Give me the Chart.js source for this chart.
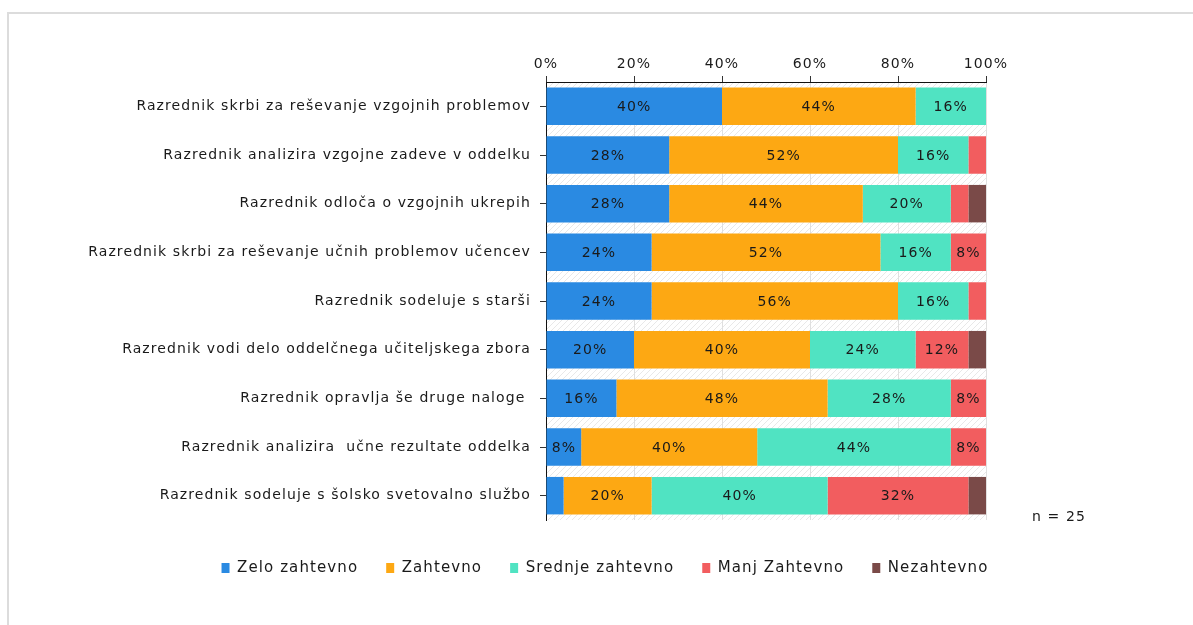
<!DOCTYPE html>
<html>
    <head>
        <meta charset="UTF-8">
        <title>Razrednik</title>
        <script src="https://cdn.jsdelivr.net/npm/chart.js@4/dist/chart.umd.min.js"></script>
        <style>
            body { margin: 0; background: #fff; }
            #okvir { position: absolute; left: 7px; top: 12px; width: 1400px; height: 800px;
                     border-left: 2px solid #dcdcdc; border-top: 2px solid #dcdcdc; }
            #wrap { position: absolute; left: 0; top: 0; width: 1193px; height: 625px; }
        </style>
    </head>
    <body>
        <div id="okvir"></div>
        <div id="wrap"><canvas id="grafica" width="1193" height="625"></canvas></div>

        <script type="text/javascript">
        // podatki (v %, n = 25)
        var kategorije = [
            "Razrednik skrbi za reševanje vzgojnih problemov",
            "Razrednik analizira vzgojne zadeve v oddelku",
            "Razrednik odloča o vzgojnih ukrepih",
            "Razrednik skrbi za reševanje učnih problemov učencev",
            "Razrednik sodeluje s starši",
            "Razrednik vodi delo oddelčnega učiteljskega zbora",
            "Razrednik opravlja še druge naloge ",
            "Razrednik analizira  učne rezultate oddelka",
            "Razrednik sodeluje s šolsko svetovalno službo"
        ];
        var zeloZahtevno    = [40, 28, 28, 24, 24, 20, 16, 8, 4];
        var zahtevno        = [44, 52, 44, 52, 56, 40, 48, 40, 20];
        var srednjeZahtevno = [16, 16, 20, 16, 16, 24, 28, 44, 40];
        var manjZahtevno    = [0, 4, 4, 8, 4, 12, 8, 8, 32];
        var nezahtevno      = [0, 0, 4, 0, 0, 4, 0, 0, 4];
        var xTicks = [0, 20, 40, 60, 80, 100];
        var nText = "n = 25";

        var pisava = "'DejaVu Sans', Verdana, sans-serif";
        Chart.defaults.font.family = pisava;
        Chart.defaults.font.size = 14;
        Chart.defaults.color = "#1a1a1a";

        // crtkano ozadje
        var vzorec = document.createElement("canvas");
        vzorec.width = 6; vzorec.height = 6;
        var vc = vzorec.getContext("2d");
        vc.fillStyle = "#fff"; vc.fillRect(0, 0, 6, 6);
        vc.strokeStyle = "#e8e8e8"; vc.lineWidth = 1;
        vc.beginPath();
        vc.moveTo(0, 6); vc.lineTo(6, 0);
        vc.moveTo(-3, 3); vc.lineTo(3, -3);
        vc.moveTo(3, 9); vc.lineTo(9, 3);
        vc.stroke();

        var razmik = {
            id: "razmik",
            beforeUpdate: function(chart) { chart.ctx.letterSpacing = "1.1px"; },
            afterLayout: function(chart) {
                // legenda malo nizje in bolj desno
                chart.legend.top += 12.5;
                chart.legend.bottom += 12.5;
                chart.legend.left += 112;
                chart.legend.right += 112;
            },
            beforeDraw: function(chart) {
                var ctx = chart.ctx, a = chart.chartArea;
                ctx.letterSpacing = "1.1px";
                ctx.save();
                ctx.fillStyle = ctx.createPattern(vzorec, "repeat");
                ctx.fillRect(a.left, a.top, a.right - a.left, a.bottom - a.top);
                ctx.restore();
            },
            afterDatasetsDraw: function(chart) {
                var ctx = chart.ctx;
                ctx.save();
                ctx.font = "14px " + pisava;
                ctx.fillStyle = "#1a1a1a";
                ctx.textAlign = "center";
                ctx.textBaseline = "middle";
                chart.data.datasets.forEach(function(ds, i) {
                    var meta = chart.getDatasetMeta(i);
                    meta.data.forEach(function(bar, j) {
                        var v = ds.data[j];
                        if (v < 8) return;
                        var sredina = (bar.x + bar.base) / 2;
                        ctx.fillText(v + "%", sredina, bar.y + 1);
                    });
                });
                ctx.textAlign = "left";
                ctx.fillText(nText, chart.chartArea.right + 46, chart.chartArea.bottom - 3);
                ctx.restore();
            }
        };

        function ds(label, data, barva) {
            return { label: label, data: data, backgroundColor: barva, borderWidth: 0,
                     categoryPercentage: 0.77, barPercentage: 1 };
        }

        var miCanvas = document.getElementById("grafica").getContext("2d");
        var chart = new Chart(miCanvas, {
            type: "bar",
            data: {
                labels: kategorije,
                datasets: [
                    ds("Zelo zahtevno", zeloZahtevno, "#2a8ae2"),
                    ds("Zahtevno", zahtevno, "#fda813"),
                    ds("Srednje zahtevno", srednjeZahtevno, "#50e3c2"),
                    ds("Manj Zahtevno", manjZahtevno, "#f25d5f"),
                    ds("Nezahtevno", nezahtevno, "#7a4a48")
                ]
            },
            options: {
                indexAxis: "y",
                responsive: false,
                animation: false,
                layout: { padding: { left: 0, right: 207, top: 52, bottom: 52 } },
                scales: {
                    x: {
                        position: "top",
                        stacked: true,
                        min: 0, max: 100,
                        afterFit: function(s) { s.height = 30; },
                        afterBuildTicks: function(s) { s.ticks = xTicks.map(function(v) { return { value: v }; }); },
                        ticks: { padding: 3, callback: function(v) { return v + "%"; } },
                        grid: { color: "#e0e0e0", tickColor: "#333", tickLength: 6 },
                        border: { color: "#111", width: 1 }
                    },
                    y: {
                        stacked: true,
                        afterFit: function(s) { s.width = 546; },
                        ticks: { padding: 9, autoSkip: false },
                        grid: { drawOnChartArea: false, offset: false, tickColor: "#333", tickLength: 6 },
                        border: { color: "#111", width: 1 }
                    }
                },
                plugins: {
                    tooltip: { enabled: false },
                    legend: {
                        position: "bottom",
                        labels: { boxWidth: 8, boxHeight: 10, padding: 28, font: { size: 15 } }
                    }
                }
            },
            plugins: [razmik]
        });
        </script>
    </body>
</html>
